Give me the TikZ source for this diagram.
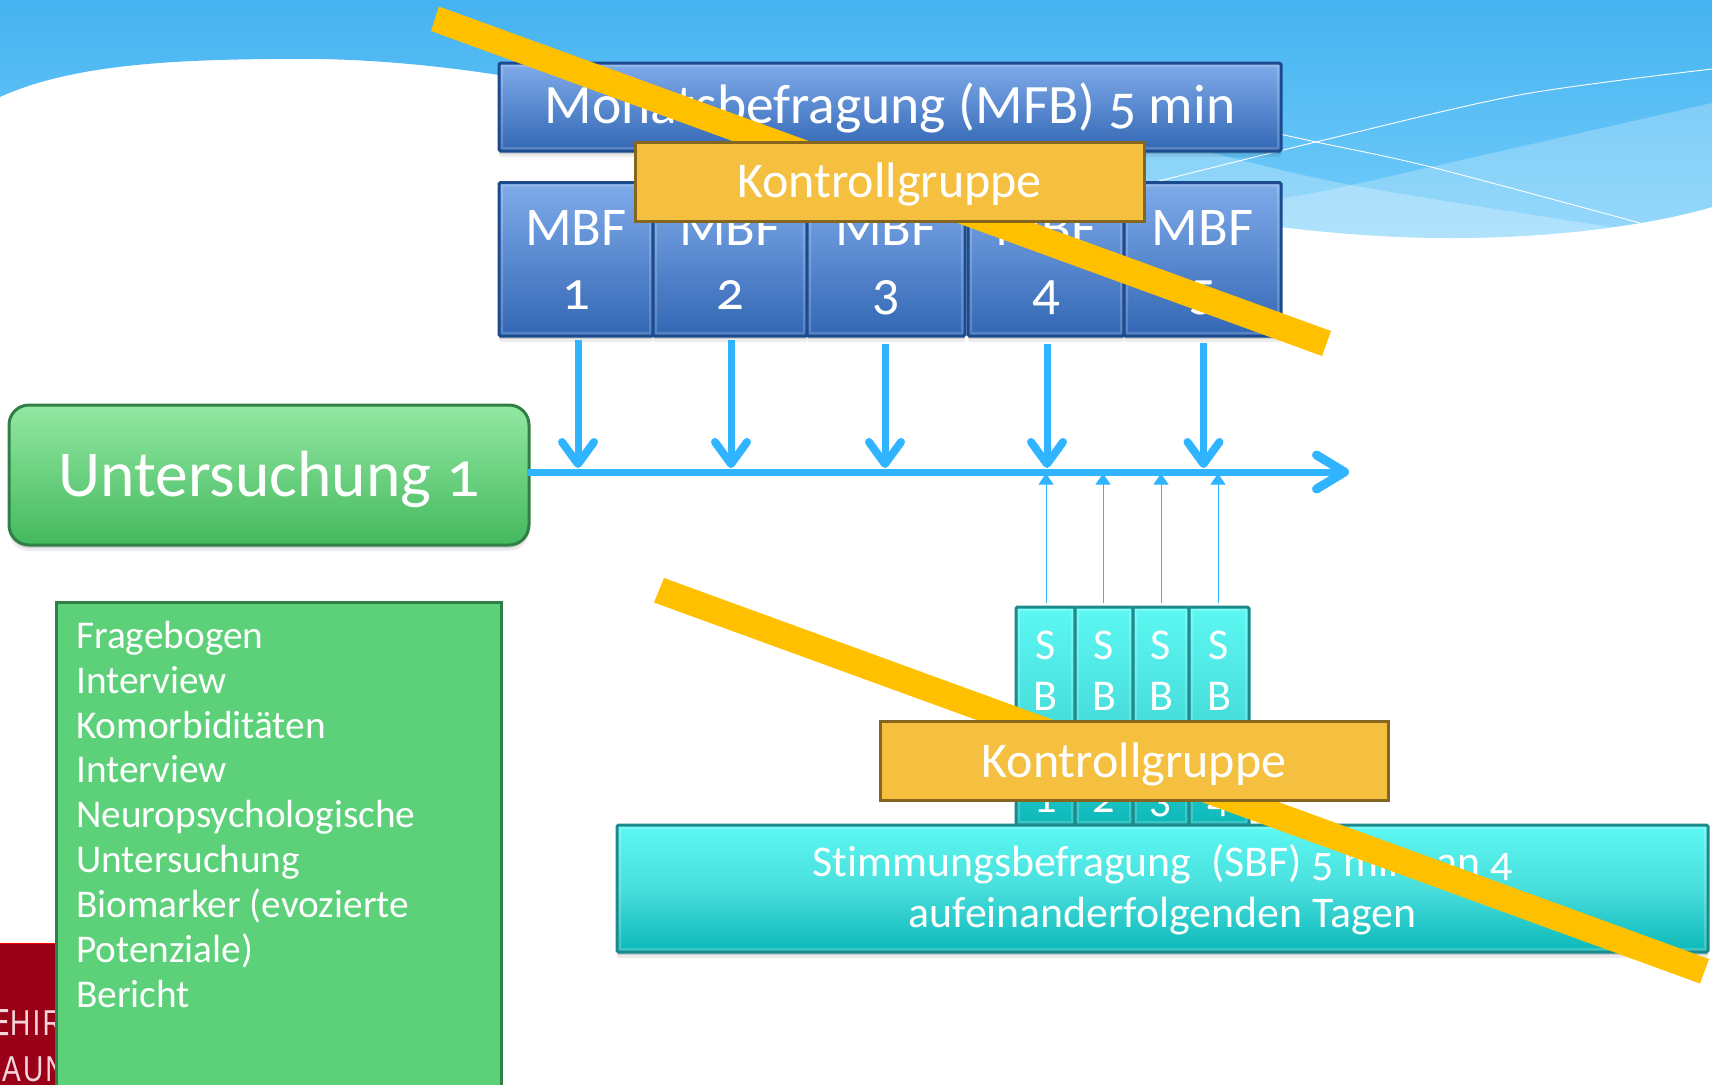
\documentclass[tikz,border=0pt]{standalone}
\usepackage{fontspec}
\setmainfont[Numbers=OldStyle,Ligatures=CommonOff]{Carlito}
\newfontfamily\redfont[FakeStretch=0.78,LetterSpace=6]{Liberation Sans}
\usetikzlibrary{arrows.meta,calc}
\definecolor{skytop}{HTML}{45B3F0}
\definecolor{skylow}{HTML}{74CDFB}
\definecolor{arrowblue}{HTML}{30B4FF}
\definecolor{strike}{HTML}{FFC000}
\definecolor{darkred}{HTML}{990018}
\definecolor{redtext}{HTML}{F4D6DA}
\definecolor{bluetop}{HTML}{7FABEA}
\definecolor{bluebot}{HTML}{3367B4}
\definecolor{blueedge}{HTML}{1C4A8E}
\definecolor{tealtop}{HTML}{5DF8F3}
\definecolor{tealmid}{HTML}{48DEDC}
\definecolor{tealbot}{HTML}{0CB8B9}
\definecolor{tealedge}{HTML}{1A8A8C}
\definecolor{kfill}{HTML}{F5C040}
\definecolor{kedge}{HTML}{85661F}
\definecolor{gtop}{HTML}{92E8A2}
\definecolor{gbot}{HTML}{44B95E}
\definecolor{gedge}{HTML}{317F47}
\definecolor{listfill}{HTML}{5DD17A}
\newcommand{\tl}[2]{\rule[-#2pt]{0pt}{#1pt}}
\tikzset{
  boxshadow/.style={preaction={fill=black,opacity=.07,transform canvas={yshift=-6pt}},preaction={fill=black,opacity=.12,transform canvas={yshift=-3pt}}},
  innerglow/.style={path picture={\draw[white,opacity=.18,line width=8pt] (path picture bounding box.north west) rectangle (path picture bounding box.south east);}},
  basebox/.style={rectangle,rounded corners=1.5pt,anchor=north west,inner sep=0pt,outer sep=0pt,text=white,align=center,line width=3pt,boxshadow},
  bluebox/.style={basebox,draw=blueedge,top color=bluetop,bottom color=bluebot,innerglow},
  tealbox/.style={basebox,draw=tealedge,shading=axis,top color=tealtop,bottom color=tealbot,middle color=tealmid,innerglow},
  kontroll/.style={rectangle,anchor=north west,inner sep=0pt,outer sep=0pt,fill=kfill,draw=kedge,line width=3pt,text=white,font=\fontsize{50}{54}\selectfont},
  down/.style={draw=arrowblue,line width=7pt,-{Straight Barb[length=22pt,width=32pt,line width=8pt,round]}},
  axisline/.style={draw=arrowblue,line width=7pt,-{Straight Barb[length=28pt,width=34pt,line width=9pt,round]}},
  up/.style={draw=arrowblue,line width=1pt,-{Triangle[length=11pt,width=15pt]}},
  strikebar/.style={fill=strike},
  thinwhite/.style={white,line width=.9pt},
  redlabel/.style={anchor=base west,inner sep=0pt,text=redtext,font=\redfont\fontsize{36}{40}\selectfont},
}
\begin{document}
\begin{tikzpicture}[x=1pt,y=-1pt]
\useasboundingbox (0,0) rectangle (1712,1085);
% background sky
\begin{scope}
\clip (0,0) -- (1712,0) -- (1712,207) .. controls (1640,228) and (1540,238) .. (1451,238) .. controls (1390,238) and (1330,233) .. (1281,227)
  .. controls (1100,190) and (700,100) .. (499,75) .. controls (400,60) and (330,58) .. (270,59) .. controls (170,60) and (70,65) .. (0,97) -- cycle;
\shade[top color=skytop,bottom color=skylow] (0,0) rectangle (1712,240);
\fill[white,opacity=.245] plot[smooth] coordinates {(1100,222) (1283,198) (1351,185) (1431,167) (1712,103)} -- (1712,240) -- (1100,240) -- cycle;
\fill[white,opacity=.26] plot[smooth] coordinates {(1100,125) (1200,150) (1351,185) (1611,227) (1712,240)} -- (1100,240) -- cycle;
\end{scope}
\draw[thinwhite] plot[smooth] coordinates {(1159,181) (1316,142) (1519,95) (1712,69)};
\draw[thinwhite] plot[smooth] coordinates {(1275,133) (1316,142) (1431,167) (1640,223)};
% red block
\fill[darkred] (0,943) rectangle (56,1085);
\draw[red,line width=1.5pt] (0,943.5) -- (56,943.5);
\fill[redtext] (0,1009) rectangle (8,1012) (0,1020) rectangle (7,1023) (0,1032) rectangle (8,1035);
\node[redlabel] (redone) at (10,1035) {HIR};
\node[redlabel] (redtwo) at (2,1081) {AUN};
% boxes
\node[bluebox,minimum width=782pt,minimum height=88pt,font=\fontsize{55.6}{60}\selectfont] (mfb) at (499,63) {\tl{60}{14}Monatsbefragung (MFB) 5 min};
\foreach \n/\x/\w/\d in {1/499/154/1,2/653/154/2,3/807/158/3,4/968/156/4,5/1124/157/5}{
  \node[bluebox,minimum width=\w pt,minimum height=153.5pt,font=\fontsize{54.6}{64}\selectfont] (m\n) at (\x,182.5) {\tl{47.5}{0}MBF\\\tl{1}{12}\d};
}
\node[basebox,draw=gedge,rounded corners=20pt,top color=gtop,bottom color=gbot,minimum width=520pt,minimum height=140pt,font=\fontsize{65.5}{70}\selectfont] (u) at (9,405) {\tl{75}{16}Untersuchung 1};
% list
\node[rectangle,anchor=north west,inner sep=0pt,outer sep=0pt,fill=listfill,minimum width=445pt,minimum height=483pt] (listbox) at (56,602) {};
\draw[gedge,line width=3pt] (listbox.south west) -- (listbox.north west) -- (listbox.north east) -- (listbox.south east);
\node[anchor=north west,inner sep=0pt,text=white,align=left,font=\fontsize{39.3}{44.9}\selectfont] (listtext) at (76,615) {\tl{33}{0}Fragebogen\\Interview\\Komorbiditäten\\Interview\\Neuropsychologische\\Untersuchung\\Biomarker (evozierte\\Potenziale)\\Bericht};
% SB boxes
\foreach \n/\x/\w in {1/1016/59,2/1075/58,3/1133/56,4/1189/60}{
  \node[tealbox,minimum width=\w pt,minimum height=218pt,font=\fontsize{44}{51}\selectfont] (s\n) at (\x,607) {\tl{51}{0}S\\B\\\ \\\tl{1}{12}\n};
}
\node[tealbox,minimum width=1091pt,minimum height=127pt,font=\fontsize{43.8}{50.5}\selectfont] (sbf) at (617,825) {\tl{38.5}{0}Stimmungsbefragung\ \ (SBF) 5 min. an 4\\\tl{1}{12}aufeinanderfolgenden Tagen};
% axis and arrows
\coordinate (axstart) at (527,472);
\coordinate (axend) at (1349,472);
\draw[axisline] (axstart) -- (axend);
\foreach \n/\x/\s in {1/578/-4,2/731/-4,3/885/-8,4/1047/-8,5/1203.5/-7}{
  \coordinate (t\n) at (\x,468);
  \coordinate (m\n top) at (\x,336);
  \draw[down] ([yshift=\s pt]m\n top) -- (t\n);
}
\foreach \n/\x in {1/1046,2/1103,3/1161,4/1218}{
  \coordinate (b\n) at (\x,473.5);
  \coordinate (s\n top) at (\x,607);
  \draw[up] ([yshift=4pt]s\n top) -- (b\n);
}
% strikes
\fill[strikebar] (439,6.5) -- (1331,331) -- (1322,356) -- (431,31) -- cycle;
\fill[strikebar] (664,578) -- (1709,959) -- (1700,983.5) -- (654,602.5) -- cycle;
% kontroll
\node[kontroll,minimum width=509pt,minimum height=79pt] (k1) at (635,142) {\tl{55}{12}Kontrollgruppe};
\node[kontroll,minimum width=508pt,minimum height=79pt] (k2) at (880,721) {\tl{57}{12}Kontrollgruppe};
\end{tikzpicture}
\end{document}
